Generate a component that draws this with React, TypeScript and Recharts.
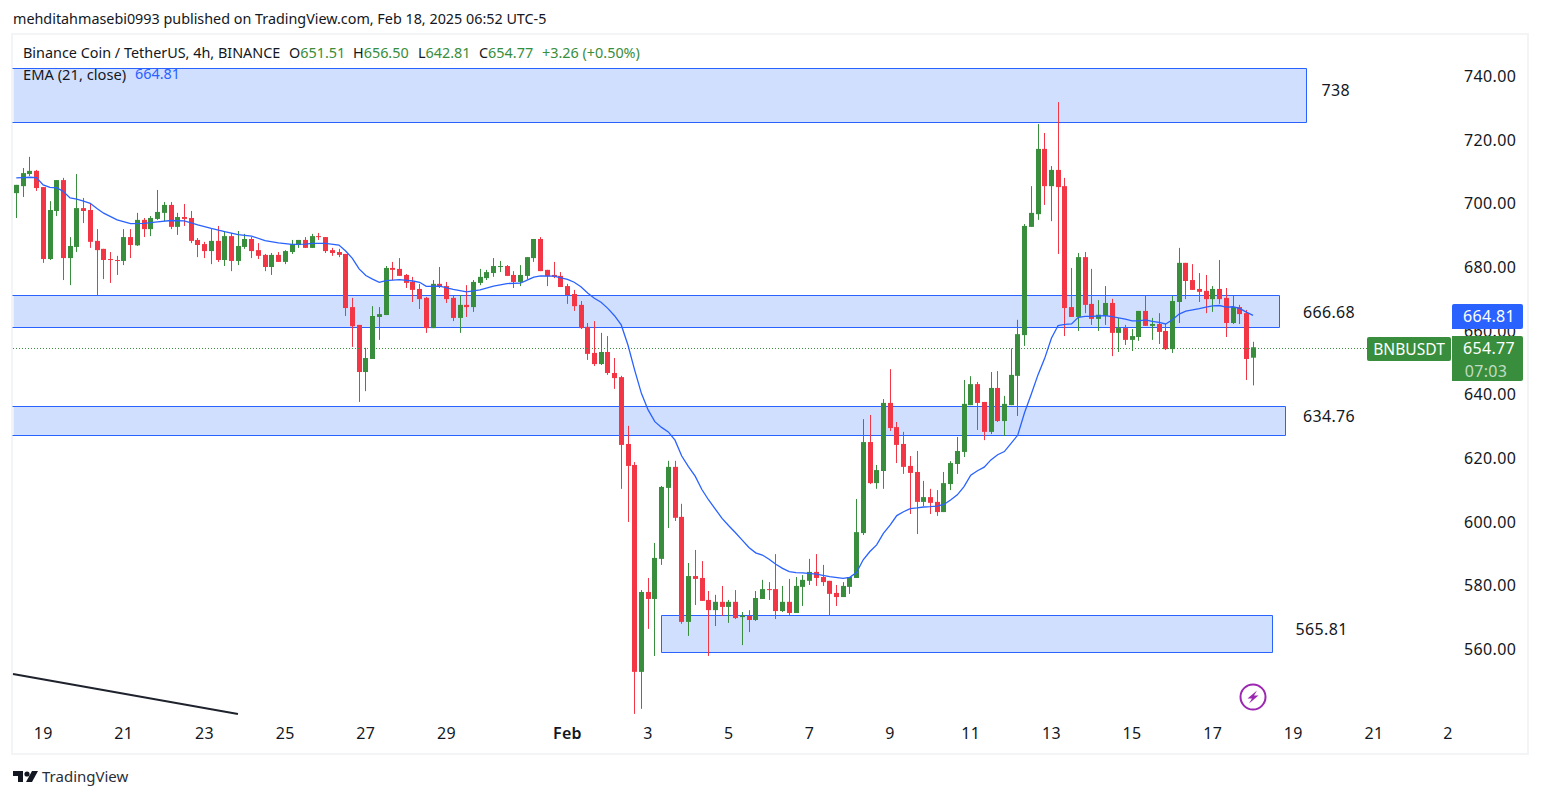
import React from "react";
import { ComposedChart, Bar, Line, XAxis, YAxis, ReferenceArea, ReferenceLine, ReferenceDot } from "recharts";

const n = null;
const opens = [
703.2,705.4,709.2,710.2,705.1,682.5,697.6,707.3,682.8,686.3,
698.5,697.9,688.2,685.7,682.5,682.2,681.9,689.4,686.8,694.8,
691.9,695.1,697.0,699.5,692.6,695.7,695.4,688.5,687.2,685.0,
688.2,682.2,689.7,681.9,686.3,688.8,685.3,683.8,680.0,683.8,
681.6,684.7,686.9,688.5,686.0,689.7,689.4,685.3,684.7,684.1,
667.4,661.8,647.0,651.1,664.3,664.9,679.7,679.4,677.5,675.3,
673.1,670.3,660.8,674.7,674.0,670.3,664.0,668.1,667.4,675.0,
676.5,678.1,680.0,680.3,677.5,675.3,677.2,682.8,688.8,679.1,
677.5,677.2,674.0,671.5,668.1,661.2,653.0,649.5,653.3,646.7,
645.4,624.4,617.8,552.8,577.9,575.7,588.3,610.6,617.2,601.5,
568.5,582.9,582.3,575.4,572.2,574.8,573.2,574.8,570.0,570.4,
569.1,575.7,578.8,578.8,571.9,574.8,571.3,579.5,581.4,584.2,
582.6,581.4,577.6,576.3,579.5,582.3,596.4,625.0,612.1,615.9,
637.3,629.7,624.4,617.5,615.6,606.2,607.7,606.2,603.0,611.8,
618.1,621.9,636.6,643.2,637.6,628.2,642.0,631.6,636.6,645.8,
658.6,692.6,696.6,717.1,705.4,710.5,705.4,667.4,664.3,683.1,
668.4,663.7,664.6,668.7,659.3,660.8,657.1,658.0,666.2,661.5,
662.1,659.9,654.2,669.0,681.3,675.9,673.1,672.5,669.9,673.1,
670.3,662.4,667.4,665.5,651.51];
const highs = [
705.8,711.1,714.6,710.5,705.1,700.7,707.3,708.0,689.4,709.2,
701.7,699.8,691.9,685.7,684.7,683.5,691.9,691.9,697.0,695.4,
696.0,704.2,700.4,700.4,697.0,699.8,697.6,689.1,687.9,691.9,
692.9,691.3,690.7,691.3,690.4,689.4,687.5,684.1,684.4,684.7,
685.3,688.5,688.5,689.4,690.4,690.7,689.4,686.0,685.7,684.1,
670.3,661.8,654.6,667.7,667.4,680.3,681.6,682.8,677.8,676.9,
674.7,670.6,675.9,680.0,675.3,670.9,671.2,674.3,675.9,679.4,
679.1,682.8,681.9,680.6,678.7,680.6,683.1,688.8,689.4,679.1,
681.6,678.4,674.7,672.8,669.3,662.4,663.0,659.3,658.3,651.4,
645.8,630.1,618.7,578.5,582.3,593.3,611.2,619.1,619.1,605.6,
587.0,591.1,587.6,578.2,577.0,579.8,575.4,578.5,571.6,572.2,
578.2,581.7,581.0,589.8,579.8,582.0,582.6,583.2,588.3,589.8,
586.4,581.4,580.1,581.0,582.6,607.1,632.2,633.5,617.8,638.5,
647.9,631.3,628.2,620.6,622.2,612.8,610.3,609.9,615.6,619.0,
626.6,644.5,645.7,643.9,637.6,647.0,647.3,639.5,654.4,663.4,
693.5,705.4,724.9,722.1,711.7,731.8,708.0,679.7,684.4,684.7,
679.4,669.6,674.0,670.0,664.0,661.8,660.5,666.2,671.2,664.0,
665.5,662.1,670.9,686.0,681.3,680.9,678.1,677.5,674.0,682.2,
673.4,670.9,668.1,666.5,656.50];
const lows = [
695.4,702.0,708.6,703.9,681.3,682.2,696.0,675.9,674.3,684.7,
693.8,686.0,671.1,676.2,675.0,677.5,680.6,682.8,686.6,689.4,
689.7,694.8,694.4,691.9,690.1,692.9,687.5,683.1,682.8,680.9,
681.6,680.3,678.7,680.6,685.7,682.8,682.5,678.7,677.5,681.6,
680.9,684.1,686.0,686.0,686.0,688.5,684.4,683.5,683.1,664.6,
654.9,637.6,641.0,651.1,657.1,664.9,675.9,677.2,673.4,669.0,
666.8,659.3,660.8,673.4,668.7,663.0,659.3,664.3,665.9,674.3,
675.9,676.9,678.4,677.2,673.4,674.0,676.2,681.6,678.7,674.0,
676.5,673.7,668.4,666.2,660.5,650.8,648.9,649.2,646.1,641.7,
610.3,599.9,539.6,541.2,566.3,557.8,586.4,598.0,600.2,567.9,
564.1,573.8,575.1,557.8,567.2,570.4,568.2,569.4,561.2,565.3,
568.8,575.7,575.4,569.4,571.6,570.7,571.3,573.5,580.1,579.8,
579.8,570.4,573.5,576.3,577.3,582.3,595.8,611.8,610.3,610.3,
628.5,618.4,615.0,602.4,596.1,604.9,602.4,601.8,603.0,609.9,
615.0,620.3,636.6,628.8,625.6,627.5,631.3,626.9,636.6,633.2,
655.2,692.6,694.8,699.5,694.4,684.1,658.3,664.3,659.9,665.5,
661.8,659.9,661.8,652.0,653.3,655.5,653.6,656.8,661.5,657.1,
655.8,653.9,653.0,662.4,669.9,672.8,669.0,665.5,665.9,668.4,
658.0,662.1,662.1,644.5,642.81];
const closes = [
705.8,709.5,710.2,704.8,682.5,697.9,707.3,682.8,686.6,698.5,
697.6,687.9,685.3,682.2,682.3,682.0,689.4,686.9,694.8,691.9,
695.4,697.3,699.5,692.6,695.7,695.1,688.2,686.9,685.0,688.2,
682.2,689.7,681.9,686.6,688.8,685.0,683.5,680.0,683.8,681.6,
685.0,687.2,688.5,686.0,689.7,689.4,685.0,684.4,683.8,667.1,
661.4,647.0,651.4,664.6,665.2,679.7,679.1,677.2,675.0,672.8,
669.9,660.8,674.7,673.7,669.9,664.0,668.1,667.4,675.3,676.9,
678.4,680.3,680.3,677.2,675.3,677.5,683.1,688.8,678.7,677.1,
676.9,673.7,671.2,667.7,660.8,652.7,649.5,653.3,646.7,645.1,
624.1,617.5,552.8,577.9,575.7,588.6,610.9,617.2,601.2,568.5,
582.9,582.0,575.1,572.2,574.8,573.2,574.8,569.7,570.4,569.1,
576.0,578.8,578.5,571.9,574.8,571.3,579.8,581.7,584.2,582.3,
581.0,577.3,576.3,579.8,582.6,596.7,625.0,612.1,616.2,637.3,
629.4,624.1,617.2,615.3,606.2,607.7,605.9,603.0,612.1,618.4,
622.2,637.0,643.2,637.3,628.2,642.0,631.6,637.0,646.1,658.9,
692.9,697.0,717.1,705.4,710.5,705.1,667.1,664.3,683.1,668.1,
663.7,665.0,668.7,659.3,660.8,657.1,658.3,666.2,661.5,662.1,
659.6,654.2,669.3,681.3,675.6,672.8,672.2,669.9,673.1,669.9,
662.4,667.4,665.2,651.1,654.77];
const emaValues = [
708.0,708.1,708.2,708.1,705.8,705.0,704.9,703.7,701.7,701.3,
700.7,700.0,698.4,696.9,n,694.8,n,693.6,n,693.7,
n,694.2,n,694.6,n,694.5,n,693.2,n,692.1,
n,691.1,n,690.2,n,689.7,n,688.3,n,687.6,
n,687.1,n,687.2,687.4,n,687.4,n,686.9,685.0,
682.7,679.4,677.3,676.2,675.2,675.7,n,676.0,n,675.6,
675.2,673.9,n,674.0,n,673.0,n,672.2,n,672.8,
n,674.0,n,674.8,n,674.9,675.9,676.8,677.2,n,
677.1,n,676.1,675.2,673.8,671.8,670.2,668.9,667.0,664.7,
661.8,655.5,647.6,640.3,635.1,631.4,629.6,628.2,625.6,620.6,
617.3,614.3,610.1,606.8,603.9,601.0,598.7,596.5,594.2,591.9,
590.2,589.5,588.2,586.6,585.3,584.3,584.0,583.9,n,583.5,
n,582.7,n,582.2,582.5,584.0,588.0,590.6,592.7,596.3,
598.9,601.9,603.1,604.1,604.3,604.6,604.7,604.9,605.4,606.8,
608.4,611.0,614.6,616.0,617.1,619.4,621.0,622.0,624.6,627.2,
634.2,640.0,646.1,651.3,657.6,661.6,662.0,662.1,664.2,664.5,
664.5,664.6,664.7,664.4,664.0,663.6,663.1,663.1,663.4,662.9,
662.6,662.1,663.4,665.2,666.1,666.5,666.9,667.4,667.8,667.9,
667.4,667.5,667.0,665.8,664.81];

const xTickPositions = [5,17,29,41,53,65,83,95,107,119,131,143,155,167,179,191,203,214];
const xTickLabels = ["19","21","23","25","27","29","Feb","3","5","7","9","11","13","15","17","19","21","2"];
const priceTicks = [560,580,600,620,640,660,680,700,720,740];

const zoneLefts = [0.51,0.51,0.51,96.9];
const zoneRights = [192.9,188.9,189.8,187.8];
const zoneTops = [742.4,671.2,636.3,570.7];
const zoneBottoms = [725.7,661.2,627.3,558.9];
const noteTexts = ["738","666.68","634.76","565.81"];
const noteIndexes = [197.3,196.3,196.3,195.2];
const notePrices = [735.6,665.9,633.2,566.3];

const trendFrom = [0.51,552.1];
const trendTo = [33.98,539.56];
const priceLineLevel = 654.4;
const labelEndIndex = 202;

const GREEN = "#388e3c";
const RED = "#f23645";
const BLUE = "#2962ff";
const INK = "#131722";
const FONT = "'Noto Sans', sans-serif";
const SPACING = 0.35;

const rows = opens.map((open, i) => ({
  idx: i + 1,
  open,
  high: highs[i],
  low: lows[i],
  close: closes[i],
  range: [lows[i], highs[i]],
  ema: emaValues[i],
}));

function Candle(props: any) {
  const { x, y, width, height, payload } = props;
  const { open, high, low, close } = payload;
  const color = close >= open ? GREEN : RED;
  const unit = height / (high - low);
  const cx = x + width / 2;
  const bodyX = Math.round(cx - 2.5);
  const top = y + (high - Math.max(open, close)) * unit;
  const bh = Math.max(1, Math.abs(close - open) * unit);
  return (
    <g>
      <rect x={bodyX + 2} y={y} width={1} height={height} fill={color} />
      <rect x={bodyX} y={top} width={5} height={bh} fill={color} />
    </g>
  );
}

function Zone(props: any) {
  const { x, y, width, height } = props;
  const l = Math.round(x) + 0.5;
  const r = Math.round(x + width) + 0.5;
  const t = Math.round(y) + 0.5;
  const b = Math.round(y + height) + 0.5;
  const openLeft = x <= 14;
  const outline = openLeft
    ? `M${l - 1} ${t} H${r} V${b} H${l - 1}`
    : `M${l} ${t} H${r} V${b} H${l} Z`;
  return (
    <g>
      <rect x={l} y={t} width={r - l} height={b - t} fill="#d1dfff" />
      <path d={outline} fill="none" stroke={BLUE} strokeWidth={1} />
    </g>
  );
}

function XTick(props: any) {
  const { x, y, payload } = props;
  const label = xTickLabels[xTickPositions.indexOf(payload.value)];
  return (
    <text x={x} y={y + 17} textAnchor="middle" fontFamily={FONT} fontSize={16} letterSpacing={SPACING} fontWeight={label === "Feb" ? 600 : 400} fill={INK}>
      {label}
    </text>
  );
}

function YTick(props: any) {
  const { y, x, payload } = props;
  return (
    <text x={x} y={y + 6} textAnchor="start" fontFamily={FONT} fontSize={16} letterSpacing={SPACING} fill={INK}>
      {payload.value.toFixed(2)}
    </text>
  );
}

const abs = (left: number, top: number, extra: React.CSSProperties = {}): React.CSSProperties => ({
  position: "absolute", left, top, fontFamily: FONT, fontSize: 14.4, lineHeight: "20px", color: INK, whiteSpace: "nowrap", ...extra,
});

export default function App() {
  return (
    <div style={{ position: "absolute", left: 0, top: 0, width: 1541, height: 798, background: "#fff", overflow: "hidden" }}>
      <div style={{ position: "absolute", left: 11, top: 33, width: 1514, height: 718, border: "2px solid #f3f4f6" }} />
      <div style={{ position: "absolute", left: 0, top: 0 }}>
        <ComposedChart width={1541} height={798} data={rows} margin={{ top: 34, left: 13, right: 13, bottom: 45 }} style={{ background: "transparent" }}>
          <XAxis dataKey="idx" type="number" domain={[0.51, 214.6]} allowDataOverflow ticks={xTickPositions} interval={0} height={39} axisLine={false} tickLine={false} tick={<XTick />} />
          <YAxis orientation="right" type="number" domain={[539.56, 753.2]} allowDataOverflow ticks={priceTicks} interval={0} width={76} axisLine={false} tickLine={false} tickMargin={6} tick={<YTick />} />
          {zoneTops.map((t, i) => (
            <ReferenceArea key={i} x1={zoneLefts[i]} x2={zoneRights[i]} y1={t} y2={zoneBottoms[i]} shape={<Zone />} />
          ))}
          <ReferenceLine segment={[{ x: trendFrom[0], y: trendFrom[1] }, { x: trendTo[0], y: trendTo[1] }]} stroke="#1e222d" strokeWidth={2} />
          <ReferenceLine segment={[{ x: 0.51, y: priceLineLevel }, { x: labelEndIndex, y: priceLineLevel }]} stroke={GREEN} strokeWidth={1} strokeDasharray="1 2" />
          <Bar dataKey="range" barSize={5} shape={<Candle />} isAnimationActive={false} />
          <Line dataKey="ema" type="linear" stroke={BLUE} strokeWidth={1.3} dot={false} connectNulls isAnimationActive={false} />
          {noteTexts.map((t, i) => (
            <ReferenceDot key={t} x={noteIndexes[i]} y={notePrices[i]} r={0} stroke="none" fill="none"
              label={{ value: t, position: "center", fontFamily: FONT, fontSize: 16, letterSpacing: SPACING, fill: INK }} />
          ))}
        </ComposedChart>
      </div>

      <div style={abs(13, 9, { fontSize: 14.35 })}>mehditahmasebi0993 published on TradingView.com, Feb 18, 2025 06:52 UTC-5</div>
      <div style={abs(23, 43)}>Binance Coin / TetherUS, 4h, BINANCE</div>
      <div style={abs(289, 43)}>O<span style={{ color: GREEN }}>651.51</span></div>
      <div style={abs(353, 43)}>H<span style={{ color: GREEN }}>656.50</span></div>
      <div style={abs(418, 43)}>L<span style={{ color: GREEN }}>642.81</span></div>
      <div style={abs(479, 43)}>C<span style={{ color: GREEN }}>654.77</span></div>
      <div style={abs(542, 43, { color: GREEN })}>+3.26 (+0.50%)</div>
      <div style={abs(23, 64, { fontSize: 14.7 })}>EMA (21, close)</div>
      <div style={abs(135, 64, { color: BLUE })}>664.81</div>

      <div style={abs(1452, 304, { width: 71, height: 25, paddingLeft: 3, boxSizing: "border-box", background: BLUE, color: "#fff", fontSize: 16, letterSpacing: SPACING, lineHeight: "25px", textAlign: "center", borderRadius: "2px 2px 2px 0" })}>664.81</div>
      <div style={abs(1367, 337, { width: 84, height: 24, background: GREEN, color: "#fff", fontSize: 15.6, lineHeight: "24px", textAlign: "center", borderRadius: 2 })}>BNBUSDT</div>
      <div style={abs(1452, 336, { width: 71, height: 45, paddingLeft: 3, boxSizing: "border-box", background: GREEN, borderRadius: "0 2px 2px 0" })}>
        <div style={{ color: "#fff", fontSize: 16, letterSpacing: SPACING, lineHeight: "25px", textAlign: "center" }}>654.77</div>
        <div style={{ color: "#c3dcc4", fontSize: 16, letterSpacing: SPACING, lineHeight: "20px", textAlign: "center", marginLeft: -6 }}>07:03</div>
      </div>

      <svg style={{ position: "absolute", left: 1239, top: 683 }} width={28} height={28} viewBox="0 0 28 28">
        <circle cx={14} cy={14} r={12.5} fill="none" stroke="#9c27b0" strokeWidth={2} />
        <path d="M18 7.5 L8.5 15.5 H13 L10 20.5 L19.5 12.5 H15 Z" fill="#9c27b0" />
      </svg>

      <svg style={{ position: "absolute", left: 13, top: 771 }} width={26} height={12} viewBox="0 0 26 12">
        <path d="M0 0 H10 V11 H5 V5 H0 Z" fill={INK} />
        <circle cx={14} cy={3} r={2.6} fill={INK} />
        <path d="M19 0 H25 L19 11 H13 Z" fill={INK} />
      </svg>
      <div style={abs(42, 766, { fontSize: 15, color: "#2a2e39" })}>TradingView</div>
    </div>
  );
}
